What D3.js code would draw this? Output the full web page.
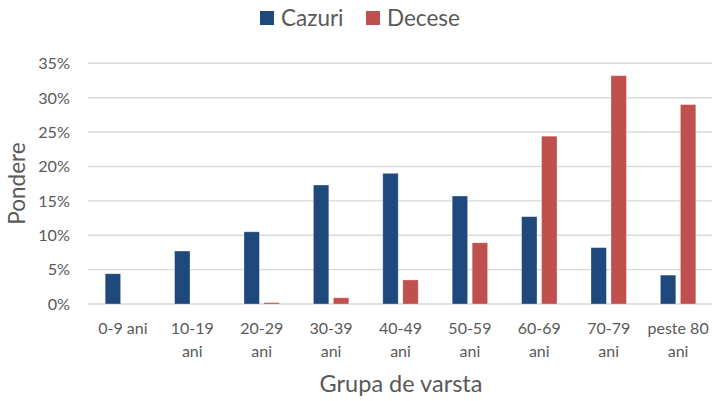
<!DOCTYPE html>
<html>
<head>
<meta charset="utf-8">
<script src="https://cdn.jsdelivr.net/npm/d3@7"></script>
<style>
  html, body { margin: 0; padding: 0; background: #fff; }
  svg { display: block; font-family: Lato, "Open Sans", sans-serif; }
</style>
</head>
<body>
<svg id="chart" width="712" height="401"></svg>
<script>
const categories = [["0-9 ani"], ["10-19", "ani"], ["20-29", "ani"], ["30-39", "ani"], ["40-49", "ani"], ["50-59", "ani"], ["60-69", "ani"], ["70-79", "ani"], ["peste 80", "ani"]];
const seriesNames = ["Cazuri", "Decese"];
const cazuri = [4.4, 7.7, 10.5, 17.3, 19.0, 15.7, 12.7, 8.2, 4.2];
const decese = [0.0, 0.0, 0.2, 0.9, 3.5, 8.9, 24.4, 33.2, 29.0];
const yTicks = [0, 5, 10, 15, 20, 25, 30, 35];
const colors = ["#1F497D", "#C0504D"];

const svg = d3.select("#chart");
const textColor = "#595959";
const catKeys = categories.map(c => c.join(" "));

const x = d3.scaleBand().domain(catKeys).range([88.2, 712.8]).padding(0);
const xSub = d3.scaleBand().domain(seriesNames).range([0, x.bandwidth()])
  .paddingInner(0.23).paddingOuter(0.85);
const y = d3.scaleLinear().domain([0, 35]).range([304, 63.3]);

// gridlines
svg.append("g").selectAll("line").data(yTicks).join("line")
  .attr("x1", 88).attr("x2", 712)
  .attr("y1", d => y(d)).attr("y2", d => y(d))
  .attr("stroke", "#D9D9D9").attr("stroke-width", 1.4);

// y tick labels
svg.append("g").selectAll("text").data(yTicks).join("text")
  .attr("x", 70).attr("y", d => y(d))
  .attr("dy", "0.36em")
  .attr("text-anchor", "end")
  .attr("fill", textColor).attr("font-size", 16.2)
  .text(d => d + "%");

// bars
const data = catKeys.map((k, i) => ({ key: k, vals: [cazuri[i], decese[i]] }));
const groups = svg.append("g").selectAll("g").data(data).join("g")
  .attr("transform", d => `translate(${x(d.key)},0)`);
groups.selectAll("rect").data(d => d.vals.map((v, j) => ({ s: seriesNames[j], v, j })))
  .join("rect")
  .attr("x", d => xSub(d.s))
  .attr("width", xSub.bandwidth())
  .attr("y", d => y(d.v))
  .attr("height", d => y(0) - y(d.v))
  .attr("fill", d => colors[d.j])
  .attr("stroke", "#ffffff").attr("stroke-opacity", 0.35).attr("stroke-width", 0.8);

// category labels
const catG = svg.append("g");
categories.forEach((lines, i) => {
  const cx = x(catKeys[i]) + x.bandwidth() / 2;
  const t = catG.append("text")
    .attr("text-anchor", "middle")
    .attr("fill", textColor).attr("font-size", 16);
  lines.forEach((ln, j) => {
    t.append("tspan").attr("x", cx).attr("y", 334 + j * 23).text(ln);
  });
});

// axis titles
svg.append("text")
  .attr("x", 401).attr("y", 391.5)
  .attr("text-anchor", "middle")
  .attr("fill", textColor).attr("font-size", 23.5)
  .text("Grupa de varsta");

svg.append("text")
  .attr("transform", "translate(25,183.5) rotate(-90)")
  .attr("text-anchor", "middle")
  .attr("fill", textColor).attr("font-size", 22.5)
  .text("Pondere");

// legend
const legend = svg.append("g");
const legendX = [260, 366];
seriesNames.forEach((s, i) => {
  legend.append("rect")
    .attr("x", legendX[i]).attr("y", 11)
    .attr("width", 14).attr("height", 14)
    .attr("fill", colors[i]);
  legend.append("text")
    .attr("x", legendX[i] + 21).attr("y", 25.5)
    .attr("fill", textColor).attr("font-size", 22.5)
    .text(s);
});
</script>
</body>
</html>
